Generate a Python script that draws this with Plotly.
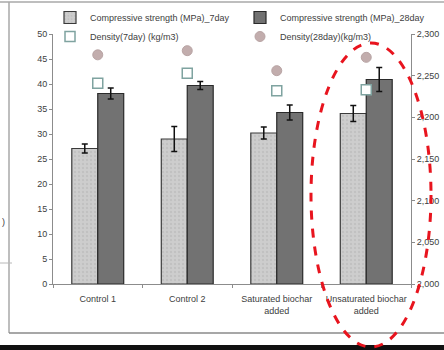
import plotly.graph_objects as go

categories = ["Control 1", "Control 2", "Saturated biochar<br>added", "Unsaturated biochar<br>added"]
cs_7day = [27.1, 29.0, 30.2, 34.1]
cs_7day_err = [0.9, 2.5, 1.2, 1.6]
cs_28day = [38.1, 39.7, 34.3, 40.9]
cs_28day_err = [1.1, 0.8, 1.5, 2.4]
density_7day = [2241, 2253, 2232, 2233]
density_28day = [2275, 2280, 2256, 2272]

FONT = "Liberation Sans, Arial, sans-serif"
TXT = "#404040"

fig = go.Figure()
fig.add_trace(go.Bar(
    x=categories, y=cs_7day, name="Compressive strength (MPa)_7day", legend="legend",
    marker=dict(color="#cdcdcd", line=dict(color="#3a3a3a", width=1.2),
                pattern=dict(shape=".", fgcolor="#b4b4b4", size=4, solidity=0.3)),
    error_y=dict(type="data", array=cs_7day_err, color="#111111", thickness=1.5, width=3),
))
fig.add_trace(go.Bar(
    x=categories, y=cs_28day, name="Compressive strength (MPa)_28day", legend="legend2",
    marker=dict(color="#727272", line=dict(color="#2a2a2a", width=1.2)),
    error_y=dict(type="data", array=cs_28day_err, color="#111111", thickness=1.5, width=3),
))
fig.add_trace(go.Scatter(
    x=categories, y=density_7day, name="Density(7day) (kg/m3)", yaxis="y2", mode="markers",
    legend="legend",
    marker=dict(symbol="square", size=10, color="white", line=dict(color="#7fa3a0", width=1.5)),
))
fig.add_trace(go.Scatter(
    x=categories, y=density_28day, name="Density(28day)(kg/m3)", yaxis="y2", mode="markers",
    legend="legend2",
    marker=dict(symbol="circle", size=10, color="#c2adad", line=dict(color="#b8a4a4", width=1)),
))

px2x = lambda p: (p - 53) / 358.0
px2y = lambda p: (284 - p) / 250.0

shapes = [
    dict(type="line", xref="paper", yref="paper", x0=px2x(0), x1=px2x(444), y0=px2y(2), y1=px2y(2),
         line=dict(color="#a8a8a8", width=1.5)),
    dict(type="line", xref="paper", yref="paper", x0=px2x(9), x1=px2x(9), y0=px2y(2), y1=px2y(333),
         line=dict(color="#a8a8a8", width=1.5)),
    dict(type="line", xref="paper", yref="paper", x0=px2x(0), x1=px2x(12), y0=px2y(263), y1=px2y(263),
         line=dict(color="#b8b8b8", width=1)),
    dict(type="line", xref="paper", yref="paper", x0=px2x(9), x1=px2x(444), y0=px2y(333), y1=px2y(333),
         line=dict(color="#8a8a8a", width=1.5)),
    dict(type="rect", xref="paper", yref="paper", x0=px2x(0), x1=px2x(444), y0=px2y(345), y1=px2y(351),
         line=dict(width=0), fillcolor="#111111"),
    dict(type="circle", xref="paper", yref="paper", x0=px2x(311), x1=px2x(431), y0=px2y(347), y1=px2y(43),
         line=dict(color="#e8141e", width=3, dash="dash")),
]

leg_common = dict(orientation="v", xanchor="left", yanchor="top", xref="container", yref="container",
                  bgcolor="rgba(0,0,0,0)", font=dict(family=FONT, size=9, color=TXT),
                  itemwidth=30, traceorder="normal", tracegroupgap=0)

fig.update_layout(
    width=444, height=350,
    margin=dict(l=53, r=33, t=34, b=66, autoexpand=False),
    paper_bgcolor="white", plot_bgcolor="white",
    font=dict(family=FONT, size=9, color=TXT),
    barmode="group", bargap=0.42, bargroupgap=0,
    showlegend=True,
    legend=dict(x=50 / 444, y=1 - 3 / 350, **leg_common),
    legend2=dict(x=240 / 444, y=1 - 3 / 350, **leg_common),
    xaxis=dict(showline=True, linecolor="#8c8c8c", linewidth=1, ticks="outside", ticklen=3,
               tickcolor="#8c8c8c", tickson="boundaries", showgrid=False, tickangle=0,
               ticklabelstandoff=6,
               automargin=False, tickfont=dict(family=FONT, size=9, color=TXT)),
    yaxis=dict(range=[0, 50], dtick=5, showline=True, linecolor="#8c8c8c", linewidth=1,
               ticks="outside", ticklen=3, tickcolor="#8c8c8c", showgrid=False, zeroline=False,
               automargin=False, tickfont=dict(family=FONT, size=9, color=TXT)),
    yaxis2=dict(range=[2000, 2300], dtick=50, overlaying="y", side="right", showline=True,
                linecolor="#8c8c8c", linewidth=1, ticks="outside", ticklen=3, tickcolor="#8c8c8c",
                showgrid=False, zeroline=False, tickformat=",", automargin=False,
                tickfont=dict(family=FONT, size=9, color=TXT)),
    shapes=shapes,
    annotations=[dict(text=")", xref="paper", yref="paper", x=px2x(0), y=px2y(222), xanchor="left",
                      yanchor="middle", showarrow=False, font=dict(family=FONT, size=9, color=TXT))],
)

fig.write_html("out.html", config={"displayModeBar": False},
               post_script="document.body.style.margin='0';document.body.style.overflow='hidden';")
